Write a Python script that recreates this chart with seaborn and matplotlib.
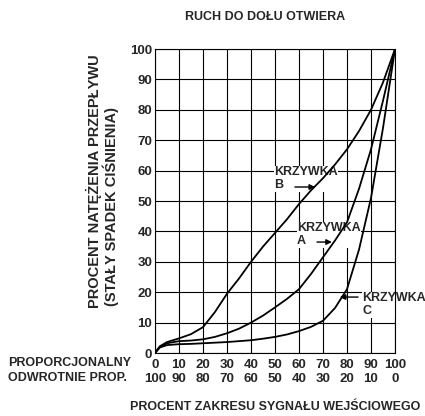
import matplotlib
matplotlib.use("Agg")
import matplotlib.pyplot as plt
import seaborn as sns
import pandas as pd

# signal range in percent (proportional scale)
signal = [0, 2, 5, 10, 15, 20, 25, 30, 35, 40, 45, 50, 55, 60, 65, 70, 75, 80, 85, 90, 95, 100]

# flow (% of max) for each cam
cam_b = [0, 2.2, 3.6, 4.8, 6.2, 8.5, 13.5, 19.5, 24.5, 30, 35, 39.5, 44, 49, 53.5, 57.5, 62, 67, 73, 80, 89, 100]
cam_a = [0, 2.0, 3.2, 3.9, 4.1, 4.5, 5.3, 6.5, 8, 10, 12.3, 15, 17.8, 21, 26, 31.5, 37, 43, 54, 67, 83, 100]
cam_c = [0, 1.8, 2.6, 2.9, 3.0, 3.2, 3.4, 3.6, 3.9, 4.2, 4.7, 5.3, 6.1, 7.2, 8.6, 10.6, 14.8, 21, 34, 51, 74, 100]

ticks = list(range(0, 101, 10))
tick_labels = [f"{t}\n{100 - t}" for t in ticks]

df = pd.DataFrame({"signal": signal * 3,
                   "flow": cam_b + cam_a + cam_c,
                   "cam": ["B"] * len(signal) + ["A"] * len(signal) + ["C"] * len(signal)})

sns.set_style("white")
plt.rcParams["font.family"] = ["Liberation Sans", "DejaVu Sans"]
plt.rcParams["font.weight"] = "bold"

fig = plt.figure(figsize=(4.25, 4.16), dpi=100)
ax = fig.add_axes([155 / 425, 63 / 416, 240 / 425, 304 / 416])

sns.lineplot(data=df, x="signal", y="flow", units="cam", estimator=None,
             color="black", lw=1.3, ax=ax, sort=False, zorder=3)

ax.set_xlim(0, 100)
ax.set_ylim(0, 100)
ax.set_xticks(ticks)
ax.set_xticklabels(tick_labels, fontsize=9.5, fontweight="bold", linespacing=1.15)
ax.set_yticks(ticks)
ax.set_yticklabels([str(t) for t in ticks], fontsize=9.5, fontweight="bold")
ax.tick_params(length=0)
ax.tick_params(axis="y", pad=2)
ax.tick_params(axis="x", pad=4.5)
ax.set_axisbelow(True)
ax.grid(True, color="black", lw=0.8)
for s in ax.spines.values():
    s.set_color("black")
    s.set_linewidth(0.8)
ax.set_xlabel("")
ax.set_ylabel("")

# cam labels with arrows
lbl = dict(fontsize=9, fontweight="bold", ha="left", va="top", zorder=2,
           linespacing=1.15, bbox=dict(fc="white", ec="none", pad=0.3), clip_on=False)
arr = dict(arrowstyle="-|>", color="black", lw=1, mutation_scale=8, shrinkA=0, shrinkB=0)
ax.text(49.6, 61.5, "KRZYWKA\nB", **lbl)
ax.annotate("", xy=(66.7, 54.6), xytext=(58.3, 54.6), arrowprops=arr, zorder=4)
ax.text(59.2, 43.1, "KRZYWKA\nA", **lbl)
ax.annotate("", xy=(73.7, 36.5), xytext=(67.5, 36.5), arrowprops=arr, zorder=4)
ax.text(86.3, 20.1, "KRZYWKA\nC", **lbl)
ax.annotate("", xy=(77, 18.4), xytext=(84.6, 18.4), arrowprops=arr, zorder=4)

fig.text(265 / 425, 1 - 17 / 416, "RUCH DO DOŁU OTWIERA", ha="center", va="center",
         fontsize=9, fontweight="bold")
fig.text(275 / 425, 1 - 407 / 416, "PROCENT ZAKRESU SYGNAŁU WEJŚCIOWEGO", ha="center",
         va="center", fontsize=9, fontweight="bold")
fig.text(8 / 425, 1 - 363 / 416, "PROPORCJONALNY", ha="left", va="center",
         fontsize=9, fontweight="bold")
fig.text(8 / 425, 1 - 378 / 416, "ODWROTNIE PROP.", ha="left", va="center",
         fontsize=9, fontweight="bold")
fig.text(94 / 425, 1 - 308 / 416, "PROCENT NATĘŻENIA PRZEPŁYWU", rotation=90,
         rotation_mode="anchor", ha="left", va="center", fontsize=10.5, fontweight="bold")
fig.text(111 / 425, 1 - 306 / 416, "(STAŁY SPADEK CIŚNIENIA)", rotation=90,
         rotation_mode="anchor", ha="left", va="center", fontsize=10.5, fontweight="bold")

fig.savefig("out.png", dpi=100)
